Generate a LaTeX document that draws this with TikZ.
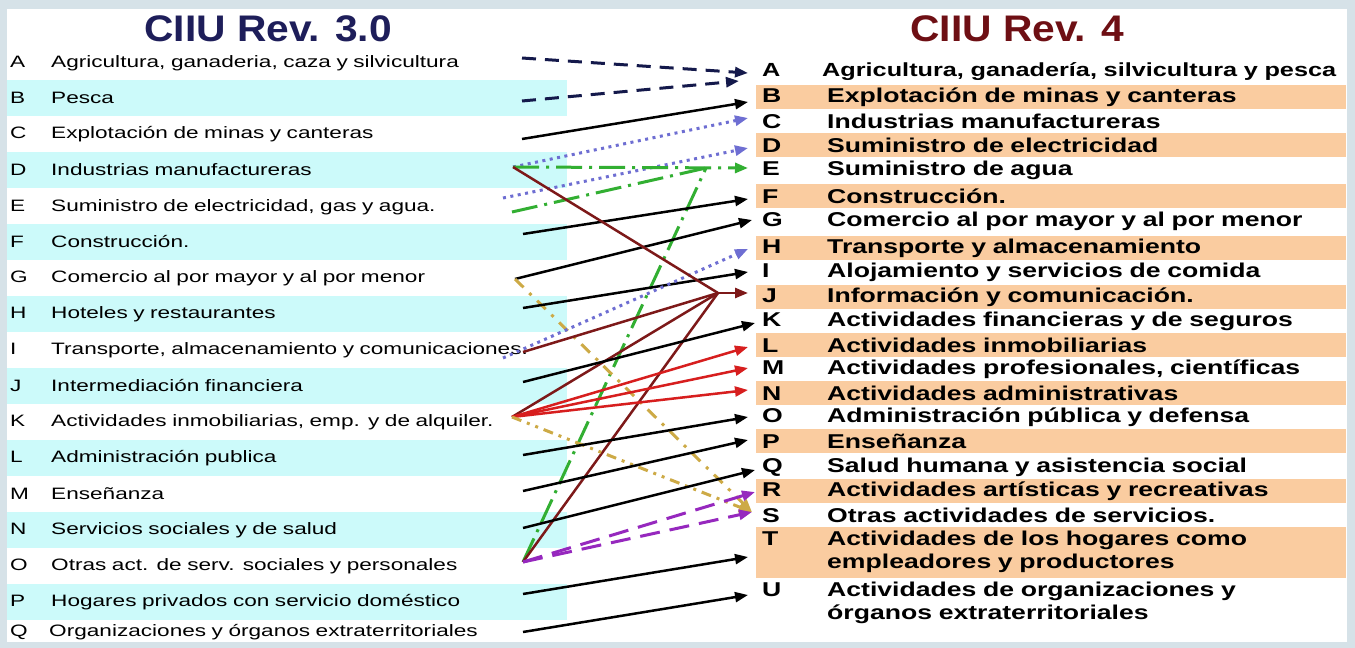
\documentclass[tikz,border=0pt]{standalone}
\usepackage{fontspec}
\setmainfont{Liberation Sans}
\newfontfamily\ciiuthree[FakeStretch=1.37]{Liberation Sans}
\newfontfamily\ciiufour[FakeStretch=1.33]{Liberation Sans}
\newfontfamily\ciiuhead[FakeStretch=1.1]{Liberation Sans}
\usetikzlibrary{arrows.meta, positioning}

\definecolor{framegray}{RGB}{214,226,232}
\definecolor{bandcyan}{RGB}{204,250,250}
\definecolor{bandpeach}{RGB}{250,204,160}
\definecolor{headblue}{RGB}{30,30,90}
\definecolor{headred}{RGB}{110,15,20}
\definecolor{lnavy}{RGB}{20,25,75}
\definecolor{ldot}{RGB}{110,110,210}
\definecolor{lgreen}{RGB}{50,175,50}
\definecolor{lbrown}{RGB}{125,25,25}
\definecolor{lred}{RGB}{215,30,30}
\definecolor{ltan}{RGB}{205,170,70}
\definecolor{lpurple}{RGB}{150,40,190}

\begin{document}
\begin{tikzpicture}[x=1pt, y=-1pt,
  oldrow/.style={anchor=west, minimum height=36pt, inner xsep=3pt, inner ysep=0pt, text width=554pt, align=left, font=\ciiuthree\fontsize{16.5}{19}\selectfont},
  newrow/.style={anchor=west, minimum height=24pt, inner xsep=6pt, inner ysep=0pt, text width=578pt, align=left, font=\ciiufour\bfseries\fontsize{20}{23}\selectfont},
  head/.style={font=\ciiuhead\bfseries\fontsize{37}{40}\selectfont},
  conn/.style={-{Triangle[length=13pt,width=10pt]}},
  blackline/.style={black, line width=2.5pt},
  navyline/.style={lnavy, line width=3pt, dash pattern=on 14pt off 9pt},
  dotline/.style={ldot, line width=3pt, dash pattern=on 3pt off 4.5pt},
  greenline/.style={lgreen, line width=3pt, dash pattern=on 26pt off 7pt on 3pt off 7pt},
  brownline/.style={lbrown, line width=2.5pt},
  redline/.style={lred, line width=2.5pt},
  tanline/.style={ltan, line width=3pt, dash pattern=on 12pt off 8pt on 3pt off 8pt},
  tanline2/.style={ltan, line width=3pt, dash pattern=on 10pt off 6pt on 3pt off 6pt on 3pt off 6pt},
  purpleline/.style={lpurple, line width=3pt, dash pattern=on 20pt off 10pt}]
% Frame
\fill[framegray] (0,0) rectangle (1355,648);
\fill[white] (7,9) rectangle (1347,642);
\useasboundingbox (0,0) rectangle (1355,648);
% Titles
\node[head, text=headblue] (HeadOld) at (268,29) {CIIU Rev. 3.0};
\node[head, text=headred] (HeadNew) at (1017,29) {CIIU Rev. 4};
% CIIU Rev. 3.0
\node[oldrow] (OldA) at (7,63) {\makebox[41pt][l]{A}Agricultura, ganaderia, caza y silvicultura};
\node[oldrow, fill=bandcyan] (OldB) at (7,98) {\makebox[41pt][l]{B}Pesca};
\node[oldrow] (OldC) at (7,134) {\makebox[41pt][l]{C}Explotación de minas y canteras};
\node[oldrow, fill=bandcyan] (OldD) at (7,170) {\makebox[41pt][l]{D}Industrias manufactureras};
\node[oldrow] (OldE) at (7,207) {\makebox[41pt][l]{E}Suministro de electricidad, gas y agua.};
\node[oldrow, fill=bandcyan] (OldF) at (7,242) {\makebox[41pt][l]{F}Construcción.};
\node[oldrow] (OldG) at (7,278) {\makebox[41pt][l]{G}Comercio al por mayor y al por menor};
\node[oldrow, fill=bandcyan] (OldH) at (7,314) {\makebox[41pt][l]{H}Hoteles y restaurantes};
\node[oldrow] (OldI) at (7,350) {\makebox[41pt][l]{I}Transporte, almacenamiento y comunicaciones.};
\node[oldrow, fill=bandcyan] (OldJ) at (7,386) {\makebox[41pt][l]{J}Intermediación financiera};
\node[oldrow] (OldK) at (7,422) {\makebox[41pt][l]{K}Actividades inmobiliarias, emp. y de alquiler.};
\node[oldrow, fill=bandcyan] (OldL) at (7,458) {\makebox[41pt][l]{L}Administración publica};
\node[oldrow] (OldM) at (7,494) {\makebox[41pt][l]{M}Enseñanza};
\node[oldrow, fill=bandcyan] (OldN) at (7,530) {\makebox[41pt][l]{N}Servicios sociales y de salud};
\node[oldrow] (OldO) at (7,566) {\makebox[41pt][l]{O}Otras act. de serv. sociales y personales};
\node[oldrow, fill=bandcyan] (OldP) at (7,602) {\makebox[41pt][l]{P}Hogares privados con servicio doméstico};
\node[oldrow, minimum height=20pt] (OldQ) at (7,632) {\makebox[39pt][l]{Q}Organizaciones y órganos extraterritoriales};
% CIIU Rev. 4
\node[newrow] (NewA) at (756,72) {\fontsize{19}{22}\selectfont\mbox{\makebox[60pt][l]{A}Agricultura, ganadería, silvicultura y pesca}};
\node[newrow, fill=bandpeach] (NewB) at (756,97) {\makebox[65pt][l]{B}Explotación de minas y canteras};
\node[newrow] (NewC) at (756,121) {\makebox[65pt][l]{C}Industrias manufactureras};
\node[newrow, fill=bandpeach] (NewD) at (756,145) {\makebox[65pt][l]{D}Suministro de electricidad};
\node[newrow] (NewE) at (756,170) {\makebox[65pt][l]{E}Suministro de agua};
\node[newrow, fill=bandpeach] (NewF) at (756,196) {\makebox[65pt][l]{F}Construcción.};
\node[newrow] (NewG) at (756,221) {\makebox[65pt][l]{G}Comercio al por mayor y al por menor};
\node[newrow, fill=bandpeach] (NewH) at (756,248) {\makebox[65pt][l]{H}Transporte y almacenamiento};
\node[newrow] (NewI) at (756,272) {\makebox[65pt][l]{I}Alojamiento y servicios de comida};
\node[newrow, fill=bandpeach] (NewJ) at (756,297) {\makebox[65pt][l]{J}Información y comunicación.};
\node[newrow] (NewK) at (756,321) {\makebox[65pt][l]{K}Actividades financieras y de seguros};
\node[newrow, fill=bandpeach] (NewL) at (756,345) {\makebox[65pt][l]{L}Actividades inmobiliarias};
\node[newrow] (NewM) at (756,369) {\makebox[65pt][l]{M}Actividades profesionales, científicas};
\node[newrow, fill=bandpeach] (NewN) at (756,393) {\makebox[65pt][l]{N}Actividades administrativas};
\node[newrow] (NewO) at (756,417) {\makebox[65pt][l]{O}Administración pública y defensa};
\node[newrow, fill=bandpeach] (NewP) at (756,441) {\makebox[65pt][l]{P}Enseñanza};
\node[newrow] (NewQ) at (756,467) {\makebox[65pt][l]{Q}Salud humana y asistencia social};
\node[newrow, fill=bandpeach] (NewR) at (756,491) {\makebox[65pt][l]{R}Actividades artísticas y recreativas};
\node[newrow] (NewS) at (756,515) {\makebox[65pt][l]{S}Otras actividades de servicios.};
\node[newrow, fill=bandpeach, minimum height=51pt] (NewT) at (756,552) {\makebox[65pt][l]{T}Actividades de los hogares como\\\hspace*{65pt}empleadores y productores};
\node[newrow] (NewU) at (756,603) {\makebox[65pt][l]{U}Actividades de organizaciones y\\\hspace*{65pt}órganos extraterritoriales};
% Line ends
\coordinate (sA) at (522,58);
\coordinate (sB) at (522,101);
\coordinate (sC) at (522,139);
\coordinate (sD) at (513,167);
\coordinate (sE) at (503,198);
\coordinate (sEg) at (512,212);
\coordinate (sF) at (523,234);
\coordinate (sG) at (515,279);
\coordinate (sH) at (523,308);
\coordinate (sI) at (523,352);
\coordinate (sIb) at (503,358);
\coordinate (sJ) at (523,382);
\coordinate (sK) at (512,417);
\coordinate (sL) at (523,455);
\coordinate (sM) at (523,491);
\coordinate (sN) at (523,528);
\coordinate (sO) at (523,562);
\coordinate (sP) at (523,594);
\coordinate (sQ) at (523,632);
\coordinate (jE) at (706,168);
\coordinate (jJ) at (718,293);
\coordinate (tA) at (748,73);
\coordinate (tAb) at (739,81);
\coordinate (tB) at (748,102);
\coordinate (tC) at (748,118);
\coordinate (tD) at (748,148);
\coordinate (tE) at (748,168);
\coordinate (tF) at (748,199);
\coordinate (tG) at (752,220);
\coordinate (tH) at (748,249);
\coordinate (tI) at (748,272);
\coordinate (tJ) at (748,293);
\coordinate (tK) at (755,323);
\coordinate (tL) at (748,347);
\coordinate (tM) at (748,368);
\coordinate (tN) at (748,390);
\coordinate (tO) at (748,417);
\coordinate (tP) at (748,440);
\coordinate (tQ) at (755,470);
\coordinate (tR) at (755,492);
\coordinate (tS) at (752,512);
\coordinate (tT) at (748,557);
\coordinate (tU) at (748,595);
% Connectors
\draw[navyline, conn] (sA) -- (tA);
\draw[navyline, conn] (sB) -- (tAb);
\draw[blackline, conn] (sC) -- (tB);
\draw[dotline, conn] (sD) -- (tC);
\draw[dotline, conn] (sE) -- (tD);
\draw[greenline, conn] (sD) -- (tE);
\draw[greenline] (sEg) -- (jE);
\draw[greenline] (sO) -- (jE);
\draw[blackline, conn] (sF) -- (tF);
\draw[blackline, conn] (sG) -- (tG);
\draw[tanline, conn] (sG) -- (tS);
\draw[blackline, conn] (sH) -- (tI);
\draw[dotline, conn] (sIb) -- (tH);
\draw[brownline] (sD) -- (jJ);
\draw[brownline] (sI) -- (jJ);
\draw[brownline] (sK) -- (jJ);
\draw[brownline] (sO) -- (jJ);
\draw[brownline, conn] (jJ) -- (tJ);
\draw[blackline, conn] (sJ) -- (tK);
\draw[redline, conn] (sK) -- (tL);
\draw[redline, conn] (sK) -- (tM);
\draw[redline, conn] (sK) -- (tN);
\draw[tanline2, conn] (sK) -- (tS);
\draw[blackline, conn] (sL) -- (tO);
\draw[blackline, conn] (sM) -- (tP);
\draw[blackline, conn] (sN) -- (tQ);
\draw[purpleline, conn] (sO) -- (tR);
\draw[purpleline, conn] (sO) -- (tS);
\draw[blackline, conn] (sP) -- (tT);
\draw[blackline, conn] (sQ) -- (tU);
\end{tikzpicture}
\end{document}
